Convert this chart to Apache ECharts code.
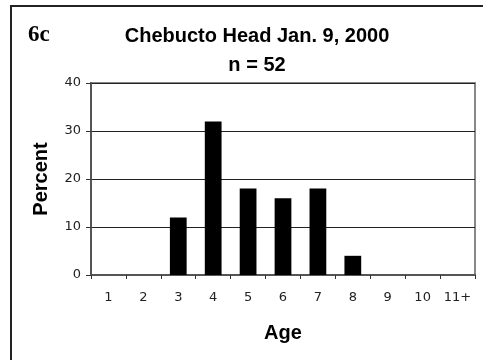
<!DOCTYPE html>
<html>
<head>
<meta charset="utf-8">
<script src="https://cdn.jsdelivr.net/npm/echarts@6/dist/echarts.min.js"></script>
<style>
  html, body { margin: 0; padding: 0; background: #fff; }
  #chart { width: 483px; height: 360px; }
</style>
</head>
<body>
<div id="chart"></div>
<script>
// age classes and percent of sample
const ages = ['1', '2', '3', '4', '5', '6', '7', '8', '9', '10', '11+'];
const percents = [0, 0, 12, 32, 18, 16, 18, 4, 0, 0, 0];
const yTicks = [0, 10, 20, 30, 40];

const chartTitle = 'Chebucto Head Jan. 9, 2000';
const subTitle = 'n = 52';
const panelLabel = '6c';

var myChart = echarts.init(document.getElementById('chart'));
myChart.setOption({
    animation: false,
    grid: {
        left: 91,
        right: 8,
        top: 83,
        bottom: 85,
        show: true,
        borderColor: '#888',
        borderWidth: 2
    },
    title: [{
        text: chartTitle,
        left: 252,
        top: 21,
        textAlign: 'center',
        textStyle: { fontFamily: 'Liberation Sans', fontWeight: 'bold', fontSize: 20, color: '#000' }
    }, {
        text: subTitle,
        left: 252,
        top: 50,
        textAlign: 'center',
        textStyle: { fontFamily: 'Liberation Sans', fontWeight: 'bold', fontSize: 20, color: '#000' }
    }],
    graphic: [{
        type: 'rect',
        shape: { x: 11, y: 6, width: 600, height: 500 },
        style: { fill: 'none', stroke: '#222', lineWidth: 2 },
        silent: true
    }, {
        type: 'text',
        left: 28,
        top: 24,
        style: { text: panelLabel, font: 'bold 23px "Liberation Serif"', fill: '#000' }
    }],
    xAxis: {
        type: 'category',
        data: ages,
        name: 'Age',
        nameLocation: 'middle',
        nameGap: 48,
        nameTextStyle: { fontFamily: 'Liberation Sans', fontWeight: 'bold', fontSize: 20, color: '#000' },
        axisLine: { lineStyle: { color: '#555', width: 2 } },
        axisTick: { show: true, length: 4, interval: 0, lineStyle: { color: '#333' } },
        axisLabel: { interval: 0, fontFamily: 'DejaVu Sans', fontSize: 13, color: '#222', margin: 16 }
    },
    yAxis: {
        type: 'value',
        min: yTicks[0],
        max: yTicks[yTicks.length - 1],
        interval: 10,
        name: 'Percent',
        nameLocation: 'middle',
        nameGap: 40,
        nameTextStyle: { fontFamily: 'Liberation Sans', fontWeight: 'bold', fontSize: 20, color: '#000' },
        axisLine: { show: true, lineStyle: { color: '#555', width: 2 } },
        axisTick: { show: true, length: 5, lineStyle: { color: '#333' } },
        axisLabel: { fontFamily: 'DejaVu Sans', fontSize: 13, color: '#222', margin: 10 },
        splitLine: { lineStyle: { color: '#222', width: 1 } }
    },
    series: [{
        type: 'bar',
        data: percents,
        barWidth: '48%',
        itemStyle: { color: '#000' }
    }]
});
</script>
</body>
</html>
